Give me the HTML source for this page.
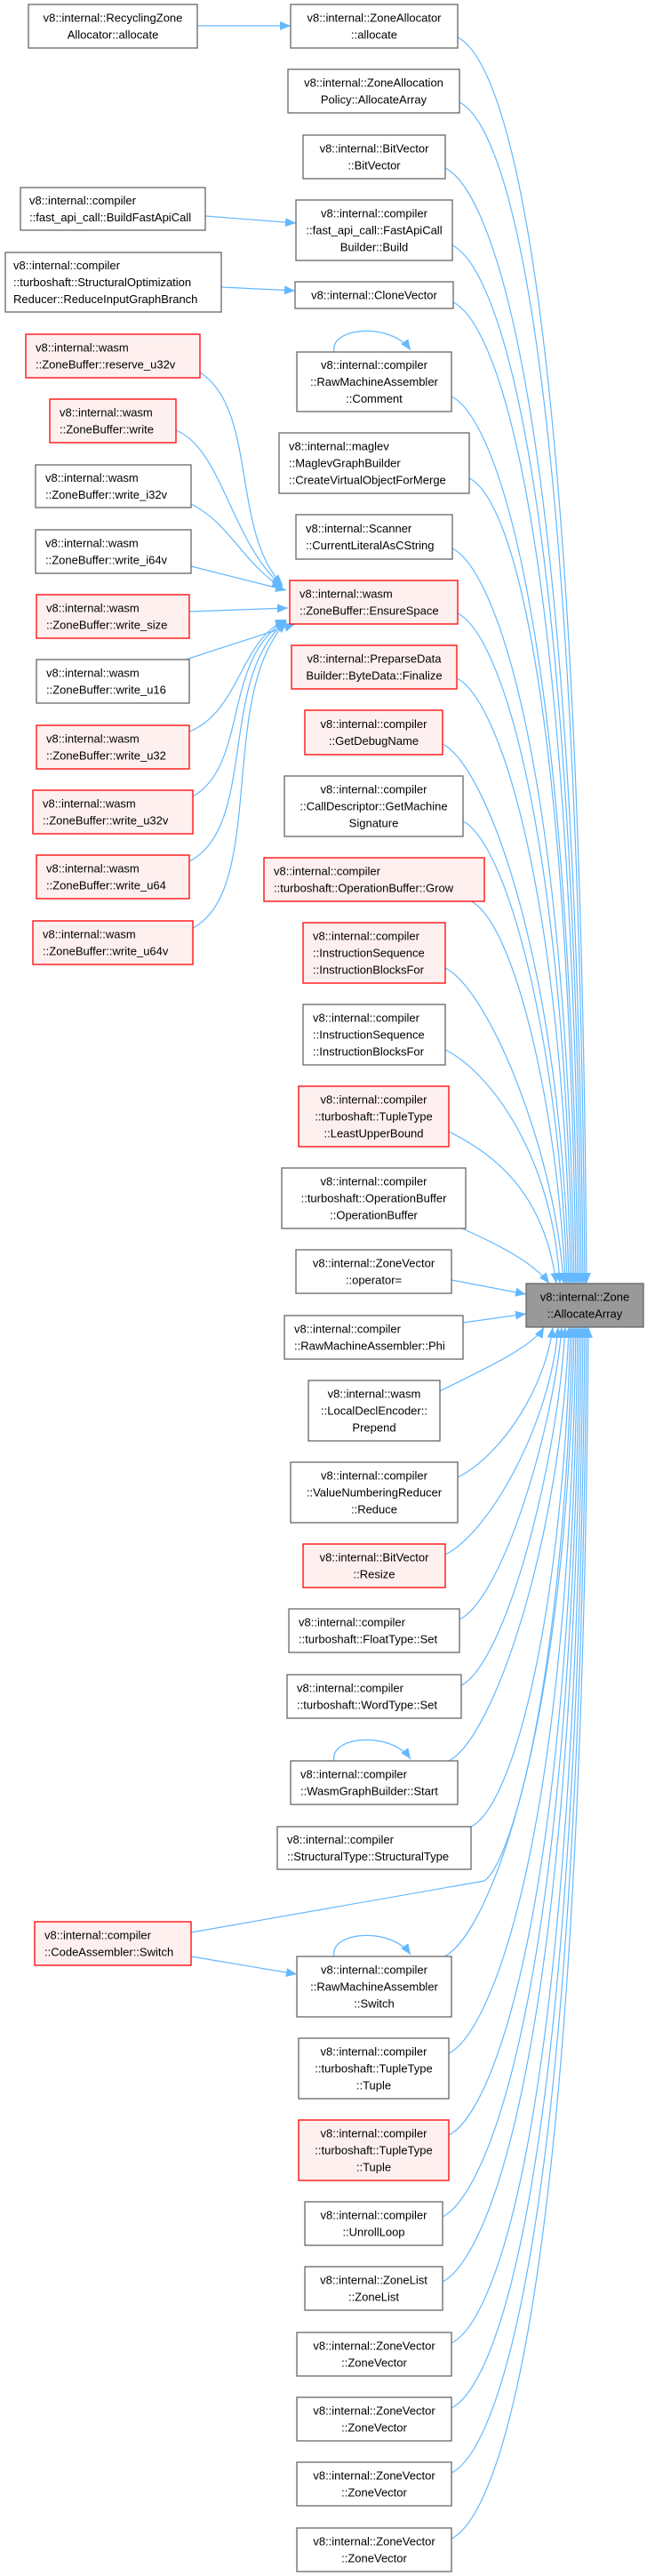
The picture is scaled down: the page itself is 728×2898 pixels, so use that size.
<!DOCTYPE html>
<html><head><meta charset="utf-8"><style>
html,body{margin:0;padding:0;background:#fff;}
svg{display:block;}
text{font-family:"Liberation Sans",sans-serif;font-size:13px;fill:#000;}
.w{fill:#fff;stroke:#666;stroke-width:1.3;}
.r{fill:#fff0f0;stroke:#f00;stroke-width:1.3;}
.g{fill:#999;stroke:#666;stroke-width:1.3;}
.e{fill:none;stroke:#63b8ff;stroke-width:1.2;}
</style></head><body>
<svg width="728" height="2898" viewBox="0 0 728 2898" xmlns="http://www.w3.org/2000/svg">
<defs><marker id="a" markerUnits="userSpaceOnUse" markerWidth="14" markerHeight="12" refX="12" refY="5" orient="auto"><path d="M0,0 L12,5 L0,10 z" fill="#63b8ff"/></marker></defs>
<g class="e" marker-end="url(#a)">
<path d="M222,29 L327,29"/>
<path d="M231,243 L333,251"/>
<path d="M249,323 L332,327"/>
<path d="M215,2201 L334,2221"/>
<path d="M376,396 C370,368 440,362 462,394"/>
<path d="M376,1981 C370,1953 440,1947 462,1979"/>
<path d="M376,2201 C370,2173 440,2167 462,2199"/>
<path d="M225,419 C290,460 260,600 318,658"/>
<path d="M198,484 C250,505 260,610 318,660"/>
<path d="M215,567 C260,590 270,630 318,662"/>
<path d="M215,637 L322,664"/>
<path d="M213,688 L324,684"/>
<path d="M209,742 L332,702"/>
<path d="M213,823 C270,800 270,720 322,697"/>
<path d="M217,896 C280,860 250,740 322,698"/>
<path d="M213,969 C290,930 245,760 322,699"/>
<path d="M217,1044 C300,1000 245,780 322,700"/>
<path d="M515,42 C565,67 652,292 660,1444"/>
<path d="M517,115 C567,140 650,365 658,1444"/>
<path d="M501,189 C551,214 648,439 656,1444"/>
<path d="M509,276 C559,301 646,526 654,1444"/>
<path d="M510,340 C560,365 644,590 652,1444"/>
<path d="M508,446 C558,471 642,696 650,1444"/>
<path d="M528,538 C578,563 640,788 648,1444"/>
<path d="M509,617 C559,642 638,867 646,1444"/>
<path d="M515,690 C565,715 636,940 644,1444"/>
<path d="M514,763 C564,788 634,1013 642,1444"/>
<path d="M498,837 C548,862 632,1087 640,1444"/>
<path d="M521,924 C571,949 630,1174 638,1444"/>
<path d="M530,1014 C580,1039 628,1252 636,1444"/>
<path d="M501,1089 C551,1114 626,1300 634,1444"/>
<path d="M501,1181 C551,1206 622,1300 630,1444"/>
<path d="M505,1273 C555,1298 612,1340 626,1444"/>
<path d="M520,1382 C560,1400 600,1420 618,1444"/>
<path d="M508,1440 L592,1456"/>
<path d="M521,1488 L592,1478"/>
<path d="M495,1565 C545,1540 600,1515 612,1493"/>
<path d="M515,1662 C565,1637 614,1560 622,1493"/>
<path d="M501,1749 C551,1724 620,1600 628,1493"/>
<path d="M517,1822 C567,1797 624,1600 632,1493"/>
<path d="M519,1896 C569,1871 628,1646 636,1493"/>
<path d="M505,1981 C555,1956 632,1731 640,1493"/>
<path d="M530,2055 C580,2030 634,1805 642,1493"/>
<path d="M215,2174 C380,2145 520,2120 545,2116 C580,2090 636,1866 644,1493"/>
<path d="M500,2201 C550,2176 638,1951 646,1493"/>
<path d="M505,2310 C555,2285 640,2060 648,1493"/>
<path d="M505,2402 C555,2377 642,2152 650,1493"/>
<path d="M498,2494 C548,2469 644,2244 652,1493"/>
<path d="M498,2567 C548,2542 646,2317 654,1493"/>
<path d="M508,2636 C558,2611 648,2386 656,1493"/>
<path d="M508,2709 C558,2684 650,2459 658,1493"/>
<path d="M508,2782 C558,2757 652,2532 660,1493"/>
<path d="M508,2856 C558,2831 654,2606 662,1493"/>
</g>

<rect class="w" x="32" y="5" width="190" height="49"/><text text-anchor="middle"><tspan x="127" y="24.5">v8::internal::RecyclingZone</tspan><tspan x="127" y="43.5">Allocator::allocate</tspan></text>
<rect class="w" x="327" y="5" width="188" height="49"/><text text-anchor="middle"><tspan x="421" y="24.5">v8::internal::ZoneAllocator</tspan><tspan x="421" y="43.5">::allocate</tspan></text>
<rect class="w" x="324" y="78" width="193" height="49"/><text text-anchor="middle"><tspan x="420.5" y="97.5">v8::internal::ZoneAllocation</tspan><tspan x="420.5" y="116.5">Policy::AllocateArray</tspan></text>
<rect class="w" x="341" y="152" width="160" height="49"/><text text-anchor="middle"><tspan x="421" y="171.5">v8::internal::BitVector</tspan><tspan x="421" y="190.5">::BitVector</tspan></text>
<rect class="w" x="23" y="211" width="208" height="48"/><text><tspan x="33" y="230">v8::internal::compiler</tspan><tspan x="33" y="249">::fast_api_call::BuildFastApiCall</tspan></text>
<rect class="w" x="333" y="225" width="176" height="68"/><text text-anchor="middle"><tspan x="421" y="244.5">v8::internal::compiler</tspan><tspan x="421" y="263.5">::fast_api_call::FastApiCall</tspan><tspan x="421" y="282.5">Builder::Build</tspan></text>
<rect class="w" x="6" y="284" width="243" height="67"/><text><tspan x="15" y="303">v8::internal::compiler</tspan><tspan x="15" y="322">::turboshaft::StructuralOptimization</tspan><tspan x="15" y="341">Reducer::ReduceInputGraphBranch</tspan></text>
<rect class="w" x="332" y="317" width="178" height="30"/><text text-anchor="middle"><tspan x="421" y="336.5">v8::internal::CloneVector</tspan></text>
<rect class="r" x="29" y="376" width="196" height="49"/><text><tspan x="40" y="395.5">v8::internal::wasm</tspan><tspan x="40" y="414.5">::ZoneBuffer::reserve_u32v</tspan></text>
<rect class="w" x="334" y="396" width="174" height="67"/><text text-anchor="middle"><tspan x="421" y="415">v8::internal::compiler</tspan><tspan x="421" y="434">::RawMachineAssembler</tspan><tspan x="421" y="453">::Comment</tspan></text>
<rect class="r" x="56" y="449" width="142" height="49"/><text><tspan x="67" y="468.5">v8::internal::wasm</tspan><tspan x="67" y="487.5">::ZoneBuffer::write</tspan></text>
<rect class="w" x="314" y="487" width="214" height="68"/><text><tspan x="325" y="506.5">v8::internal::maglev</tspan><tspan x="325" y="525.5">::MaglevGraphBuilder</tspan><tspan x="325" y="544.5">::CreateVirtualObjectForMerge</tspan></text>
<rect class="w" x="40" y="523" width="175" height="48"/><text><tspan x="51" y="542">v8::internal::wasm</tspan><tspan x="51" y="561">::ZoneBuffer::write_i32v</tspan></text>
<rect class="w" x="333" y="579" width="176" height="50"/><text><tspan x="344" y="599">v8::internal::Scanner</tspan><tspan x="344" y="618">::CurrentLiteralAsCString</tspan></text>
<rect class="w" x="40" y="596" width="175" height="49"/><text><tspan x="51" y="615.5">v8::internal::wasm</tspan><tspan x="51" y="634.5">::ZoneBuffer::write_i64v</tspan></text>
<rect class="r" x="326" y="653" width="189" height="49"/><text><tspan x="337" y="672.5">v8::internal::wasm</tspan><tspan x="337" y="691.5">::ZoneBuffer::EnsureSpace</tspan></text>
<rect class="r" x="41" y="669" width="172" height="49"/><text><tspan x="52" y="688.5">v8::internal::wasm</tspan><tspan x="52" y="707.5">::ZoneBuffer::write_size</tspan></text>
<rect class="r" x="328" y="726" width="186" height="49"/><text text-anchor="middle"><tspan x="421" y="745.5">v8::internal::PreparseData</tspan><tspan x="421" y="764.5">Builder::ByteData::Finalize</tspan></text>
<rect class="w" x="41" y="742" width="172" height="49"/><text><tspan x="52" y="761.5">v8::internal::wasm</tspan><tspan x="52" y="780.5">::ZoneBuffer::write_u16</tspan></text>
<rect class="r" x="343" y="799" width="155" height="50"/><text text-anchor="middle"><tspan x="420.5" y="819">v8::internal::compiler</tspan><tspan x="420.5" y="838">::GetDebugName</tspan></text>
<rect class="r" x="41" y="816" width="172" height="49"/><text><tspan x="52" y="835.5">v8::internal::wasm</tspan><tspan x="52" y="854.5">::ZoneBuffer::write_u32</tspan></text>
<rect class="w" x="320" y="873" width="201" height="68"/><text text-anchor="middle"><tspan x="420.5" y="892.5">v8::internal::compiler</tspan><tspan x="420.5" y="911.5">::CallDescriptor::GetMachine</tspan><tspan x="420.5" y="930.5">Signature</tspan></text>
<rect class="r" x="37" y="889" width="180" height="49"/><text><tspan x="48" y="908.5">v8::internal::wasm</tspan><tspan x="48" y="927.5">::ZoneBuffer::write_u32v</tspan></text>
<rect class="r" x="297" y="965" width="248" height="49"/><text><tspan x="308" y="984.5">v8::internal::compiler</tspan><tspan x="308" y="1003.5">::turboshaft::OperationBuffer::Grow</tspan></text>
<rect class="r" x="41" y="962" width="172" height="49"/><text><tspan x="52" y="981.5">v8::internal::wasm</tspan><tspan x="52" y="1000.5">::ZoneBuffer::write_u64</tspan></text>
<rect class="r" x="37" y="1036" width="180" height="49"/><text><tspan x="48" y="1055.5">v8::internal::wasm</tspan><tspan x="48" y="1074.5">::ZoneBuffer::write_u64v</tspan></text>
<rect class="r" x="341" y="1038" width="160" height="68"/><text><tspan x="352" y="1057.5">v8::internal::compiler</tspan><tspan x="352" y="1076.5">::InstructionSequence</tspan><tspan x="352" y="1095.5">::InstructionBlocksFor</tspan></text>
<rect class="w" x="341" y="1130" width="160" height="68"/><text><tspan x="352" y="1149.5">v8::internal::compiler</tspan><tspan x="352" y="1168.5">::InstructionSequence</tspan><tspan x="352" y="1187.5">::InstructionBlocksFor</tspan></text>
<rect class="r" x="336" y="1222" width="169" height="68"/><text text-anchor="middle"><tspan x="420.5" y="1241.5">v8::internal::compiler</tspan><tspan x="420.5" y="1260.5">::turboshaft::TupleType</tspan><tspan x="420.5" y="1279.5">::LeastUpperBound</tspan></text>
<rect class="w" x="317" y="1314" width="207" height="68"/><text text-anchor="middle"><tspan x="420.5" y="1333.5">v8::internal::compiler</tspan><tspan x="420.5" y="1352.5">::turboshaft::OperationBuffer</tspan><tspan x="420.5" y="1371.5">::OperationBuffer</tspan></text>
<rect class="w" x="333" y="1406" width="175" height="49"/><text text-anchor="middle"><tspan x="420.5" y="1425.5">v8::internal::ZoneVector</tspan><tspan x="420.5" y="1444.5">::operator=</tspan></text>
<rect class="g" x="592" y="1444" width="132" height="49"/><text text-anchor="middle"><tspan x="658" y="1463.5">v8::internal::Zone</tspan><tspan x="658" y="1482.5">::AllocateArray</tspan></text>
<rect class="w" x="320" y="1480" width="201" height="49"/><text><tspan x="331" y="1499.5">v8::internal::compiler</tspan><tspan x="331" y="1518.5">::RawMachineAssembler::Phi</tspan></text>
<rect class="w" x="347" y="1553" width="148" height="68"/><text text-anchor="middle"><tspan x="421" y="1572.5">v8::internal::wasm</tspan><tspan x="421" y="1591.5">::LocalDeclEncoder::</tspan><tspan x="421" y="1610.5">Prepend</tspan></text>
<rect class="w" x="327" y="1645" width="188" height="68"/><text text-anchor="middle"><tspan x="421" y="1664.5">v8::internal::compiler</tspan><tspan x="421" y="1683.5">::ValueNumberingReducer</tspan><tspan x="421" y="1702.5">::Reduce</tspan></text>
<rect class="r" x="341" y="1737" width="160" height="49"/><text text-anchor="middle"><tspan x="421" y="1756.5">v8::internal::BitVector</tspan><tspan x="421" y="1775.5">::Resize</tspan></text>
<rect class="w" x="325" y="1810" width="192" height="49"/><text><tspan x="336" y="1829.5">v8::internal::compiler</tspan><tspan x="336" y="1848.5">::turboshaft::FloatType::Set</tspan></text>
<rect class="w" x="323" y="1884" width="196" height="49"/><text><tspan x="334" y="1903.5">v8::internal::compiler</tspan><tspan x="334" y="1922.5">::turboshaft::WordType::Set</tspan></text>
<rect class="w" x="327" y="1981" width="188" height="49"/><text><tspan x="338" y="2000.5">v8::internal::compiler</tspan><tspan x="338" y="2019.5">::WasmGraphBuilder::Start</tspan></text>
<rect class="w" x="312" y="2055" width="218" height="48"/><text><tspan x="323" y="2074">v8::internal::compiler</tspan><tspan x="323" y="2093">::StructuralType::StructuralType</tspan></text>
<rect class="r" x="39" y="2162" width="176" height="49"/><text><tspan x="50" y="2181.5">v8::internal::compiler</tspan><tspan x="50" y="2200.5">::CodeAssembler::Switch</tspan></text>
<rect class="w" x="334" y="2201" width="174" height="68"/><text text-anchor="middle"><tspan x="421" y="2220.5">v8::internal::compiler</tspan><tspan x="421" y="2239.5">::RawMachineAssembler</tspan><tspan x="421" y="2258.5">::Switch</tspan></text>
<rect class="w" x="336" y="2293" width="169" height="68"/><text text-anchor="middle"><tspan x="420.5" y="2312.5">v8::internal::compiler</tspan><tspan x="420.5" y="2331.5">::turboshaft::TupleType</tspan><tspan x="420.5" y="2350.5">::Tuple</tspan></text>
<rect class="r" x="336" y="2385" width="169" height="68"/><text text-anchor="middle"><tspan x="420.5" y="2404.5">v8::internal::compiler</tspan><tspan x="420.5" y="2423.5">::turboshaft::TupleType</tspan><tspan x="420.5" y="2442.5">::Tuple</tspan></text>
<rect class="w" x="343" y="2477" width="155" height="49"/><text text-anchor="middle"><tspan x="420.5" y="2496.5">v8::internal::compiler</tspan><tspan x="420.5" y="2515.5">::UnrollLoop</tspan></text>
<rect class="w" x="343" y="2550" width="155" height="49"/><text text-anchor="middle"><tspan x="420.5" y="2569.5">v8::internal::ZoneList</tspan><tspan x="420.5" y="2588.5">::ZoneList</tspan></text>
<rect class="w" x="334" y="2624" width="174" height="49"/><text text-anchor="middle"><tspan x="421" y="2643.5">v8::internal::ZoneVector</tspan><tspan x="421" y="2662.5">::ZoneVector</tspan></text>
<rect class="w" x="334" y="2697" width="174" height="49"/><text text-anchor="middle"><tspan x="421" y="2716.5">v8::internal::ZoneVector</tspan><tspan x="421" y="2735.5">::ZoneVector</tspan></text>
<rect class="w" x="334" y="2770" width="174" height="49"/><text text-anchor="middle"><tspan x="421" y="2789.5">v8::internal::ZoneVector</tspan><tspan x="421" y="2808.5">::ZoneVector</tspan></text>
<rect class="w" x="334" y="2844" width="174" height="49"/><text text-anchor="middle"><tspan x="421" y="2863.5">v8::internal::ZoneVector</tspan><tspan x="421" y="2882.5">::ZoneVector</tspan></text>
</svg>
</body></html>
